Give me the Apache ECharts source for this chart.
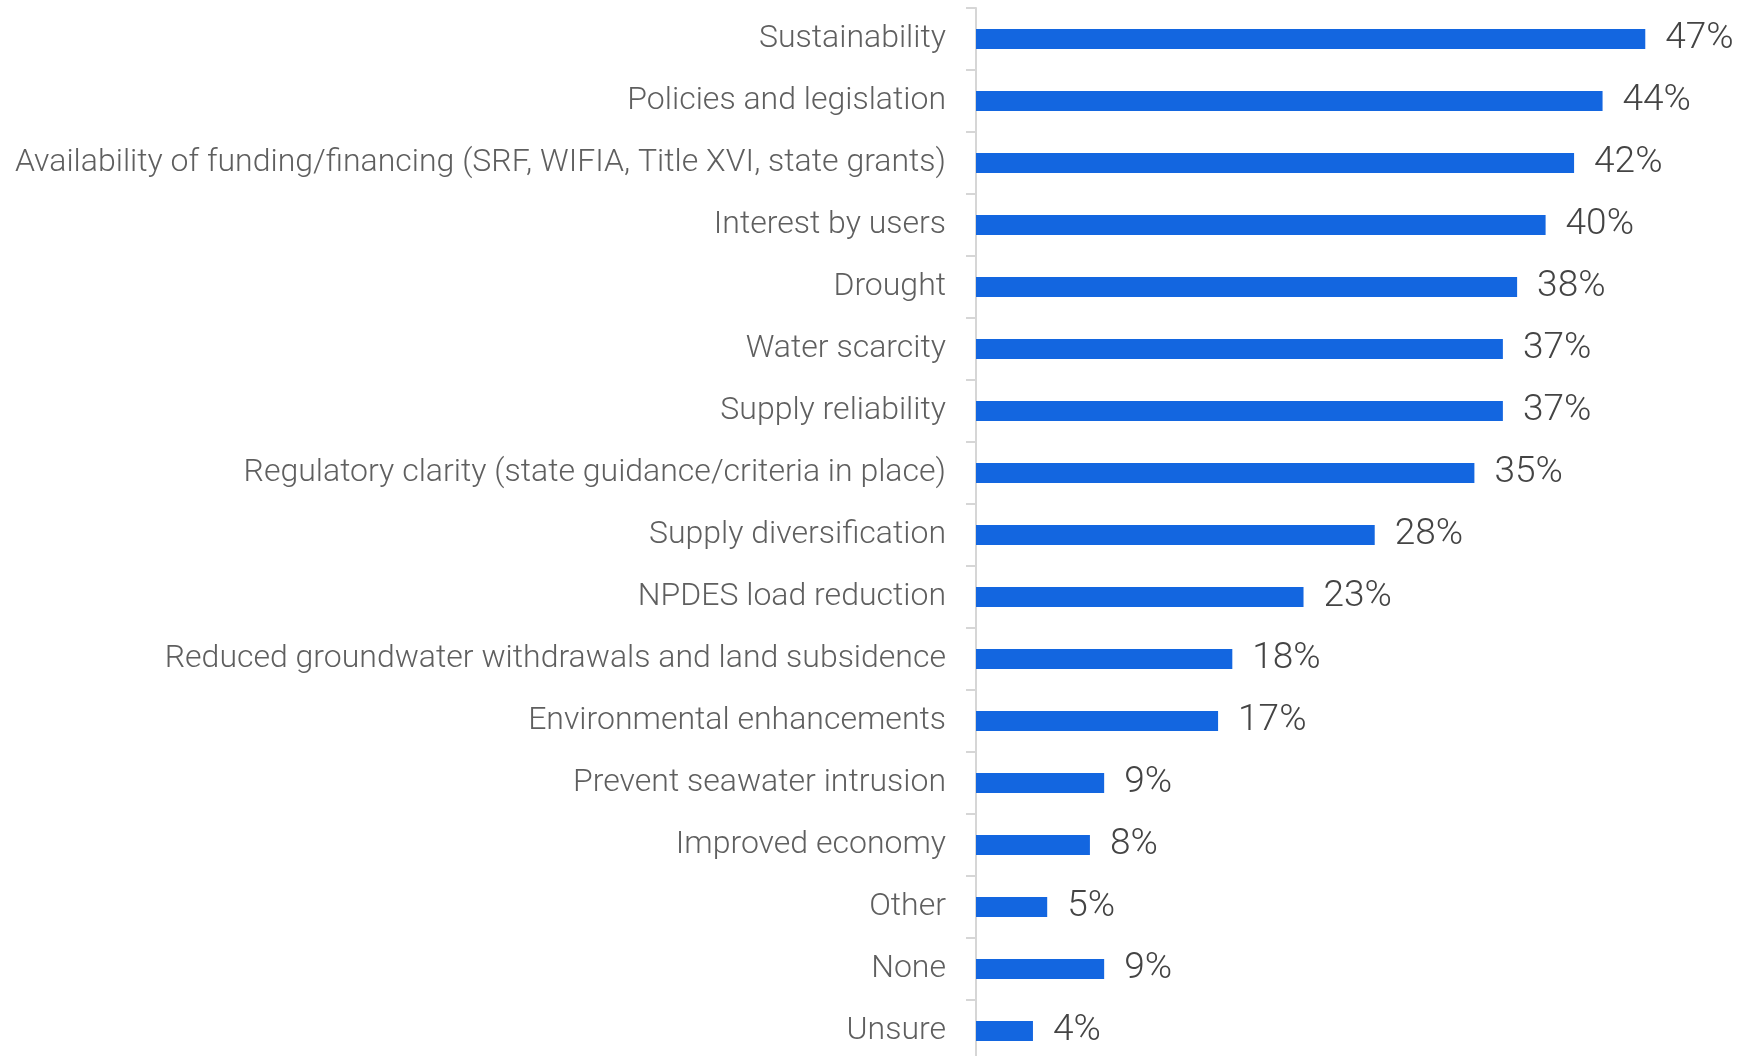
<!DOCTYPE html>
<html><head><meta charset="utf-8">
<script src="https://cdn.jsdelivr.net/npm/echarts@6/dist/echarts.min.js"></script>
<style>html,body{margin:0;padding:0;background:#fff}#c{width:1741px;height:1056px}</style>
</head><body><div id="c"></div>
<script>
const categories = ["Sustainability","Policies and legislation","Availability of funding/financing (SRF, WIFIA, Title XVI, state grants)","Interest by users","Drought","Water scarcity","Supply reliability","Regulatory clarity (state guidance/criteria in place)","Supply diversification","NPDES load reduction","Reduced groundwater withdrawals and land subsidence","Environmental enhancements","Prevent seawater intrusion","Improved economy","Other","None","Unsure"];
const values = [47,44,42,40,38,37,37,35,28,23,18,17,9,8,5,9,4];
const chart = echarts.init(document.getElementById('c'), null, {renderer:'canvas'});
chart.setOption({
  animation:false,
  grid:{left:976, width:712, top:8, height:1054, outerBoundsMode:'none', containLabel:false},
  xAxis:{type:'value', min:0, max:50, show:false},
  yAxis:{type:'category', data:categories, inverse:true,
    axisLine:{lineStyle:{color:'#d6d6d6', width:2}},
    axisTick:{show:true, length:10, lineStyle:{color:'#d6d6d6', width:2}},
    axisLabel:{fontFamily:'Roboto', fontWeight:300, fontSize:32, color:'#5f5f5f', margin:30, padding:[4,0,0,0]}
  },
  series:[{type:'bar', data:values, barWidth:20, itemStyle:{color:'#1366e0'},
    label:{show:true, position:'right', distance:20, formatter:'{c}%', fontFamily:'Roboto', fontWeight:300, fontSize:37, color:'#444', padding:[5,0,0,0]}}]
});
</script></body></html>
